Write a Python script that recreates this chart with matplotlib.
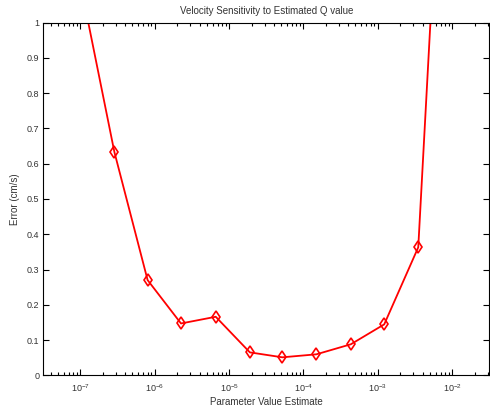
import matplotlib
matplotlib.use("Agg")
import matplotlib.pyplot as plt
import numpy as np
from matplotlib.ticker import FixedLocator, NullFormatter

# values
q_est = [1.0e-7, 2.86e-7, 8.0e-7, 2.25e-6, 6.6e-6, 1.9e-5, 5.2e-5,
         1.49e-4, 4.34e-4, 1.22e-3, 3.5e-3, 1.0e-2]
err = [1.11, 0.633, 0.27, 0.147, 0.166, 0.065, 0.051,
       0.0595, 0.088, 0.1445, 0.363, 2.14]

title = 'Velocity Sensitivity to Estimated Q value'
xlabel = 'Parameter Value Estimate'
ylabel = 'Error (cm/s)'
xtick_exps = [-7, -6, -5, -4, -3, -2]
ytick_vals = [0, 0.1, 0.2, 0.3, 0.4, 0.5, 0.6, 0.7, 0.8, 0.9, 1]
ytick_labels = ['0', '0.1', '0.2', '0.3', '0.4', '0.5', '0.6',
                '0.7', '0.8', '0.9', '1']

plt.rcParams['font.family'] = ['Liberation Sans', 'DejaVu Sans']
plt.rcParams['mathtext.fontset'] = 'custom'
plt.rcParams['mathtext.rm'] = 'Liberation Sans'
plt.rcParams['mathtext.it'] = 'Liberation Sans'

txt = '#333333'
fig = plt.figure(figsize=(4.9, 4.09), dpi=100)
ax = fig.add_axes([0.0884, 0.0824, 0.9102, 0.8621])

ax.plot(q_est, err, color='red', lw=1.3, marker='d', ms=6,
        mfc='none', mec='red', mew=1.2)

ax.set_xscale('log')
ax.set_xlim(10 ** -7.5, 10 ** -1.5)
ax.set_ylim(0, 1)

ax.set_xticks([10.0 ** e for e in xtick_exps])
ax.set_xticklabels([r'$10^{%d}$' % e for e in xtick_exps])
minors = [m * 10.0 ** e for e in range(-8, -1) for m in range(2, 10)]
minors = [v for v in minors if 10 ** -7.5 < v < 10 ** -1.5]
ax.xaxis.set_minor_locator(FixedLocator(minors))
ax.xaxis.set_minor_formatter(NullFormatter())
ax.set_yticks(ytick_vals)
ax.set_yticklabels(ytick_labels)

ax.tick_params(which='both', direction='in', top=True, right=True,
               labelsize=6.5, colors='black', labelcolor=txt, width=0.8)
ax.tick_params(which='major', length=4, pad=3)
ax.tick_params(axis='x', which='major', pad=5)
ax.tick_params(which='minor', length=2.2)
for s in ax.spines.values():
    s.set_linewidth(0.8)

ax.set_title(title, fontsize=7, color=txt, pad=6)
ax.set_xlabel(xlabel, fontsize=7, color=txt, labelpad=2)
ax.set_ylabel(ylabel, fontsize=7, color=txt, labelpad=5)

fig.savefig('out.png', dpi=100)
